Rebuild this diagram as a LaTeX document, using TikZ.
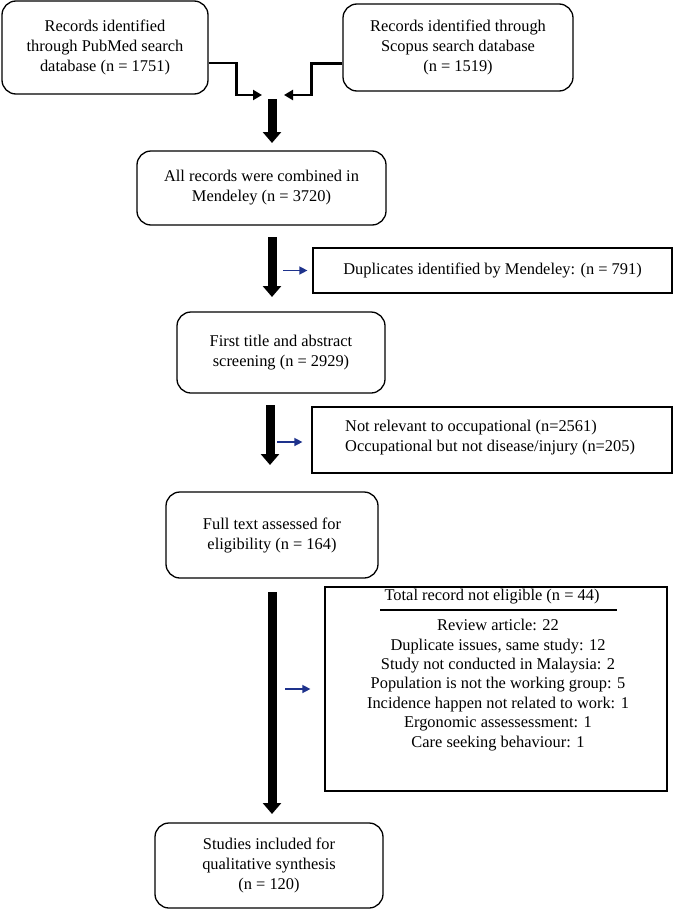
\documentclass[tikz,border=0pt]{standalone}
\usepackage{fontspec}
\setmainfont{Liberation Serif}
\usetikzlibrary{arrows.meta}
\definecolor{navy}{RGB}{30,50,140}
\begin{document}
\begin{tikzpicture}[x=1pt,y=-1pt,
  every node/.style={font=\fontsize{16.4}{20}\selectfont, inner sep=0pt},
  rbox/.style={draw, line width=1.3pt, rounded corners=14pt, align=center},
  sbox/.style={draw, line width=1.2pt},
  big/.style={line width=9pt, -{Triangle[width=18pt,length=11pt]}},
  elbow/.style={line width=2.8pt, -{Triangle[width=10pt,length=9pt]}},
  bluearr/.style={draw=navy, line width=1.4pt, -{Triangle[width=8pt,length=8pt]}, color=navy}]
\useasboundingbox (0,0) rectangle (674,910);
\fill[white] (0,0) rectangle (674,910);

\node[rbox, minimum width=206pt, minimum height=93pt] (pub) at (105,47.5)
  {Records identified\\through PubMed search\\database (n = 1751)};
\node[rbox, minimum width=230pt, minimum height=87pt] (sco) at (458,47.5)
  {Records identified through\\Scopus search database\\(n = 1519)};
\node[rbox, minimum width=249pt, minimum height=74pt] (men) at (261.5,188)
  {All records were combined in\\Mendeley (n = 3720)};
\node[rbox, minimum width=208pt, minimum height=81pt] (scr) at (281,352.5)
  {First title and abstract\\screening (n = 2929)};
\node[rbox, minimum width=212pt, minimum height=86pt] (full) at (272,535)
  {Full text assessed for\\eligibility (n = 164)};
\node[rbox, minimum width=228pt, minimum height=85pt] (inc) at (269,865.5)
  {Studies included for\\qualitative synthesis\\(n = 120)};

\node[sbox, minimum width=359pt, minimum height=45pt] (dup) at (492.5,270.5)
  {Duplicates identified by Mendeley: (n = 791)};
\node[sbox, minimum width=360pt, minimum height=66pt] (rel) at (492,440) {};
\node[align=left, anchor=west] (reltxt) at (345,438)
  {Not relevant to occupational (n=2561)\\Occupational but not disease/injury (n=205)};
\node[sbox, minimum width=342pt, minimum height=204pt] (elig) at (496,689) {};
\node (eligtitle) at (492,597) {Total record not eligible (n = 44)};
\draw[line width=1.2pt] (380,610) -- (617,610);
\node[align=center, font=\fontsize{16.4}{19.4}\selectfont] (eliglist) at (498,685)
  {Review article: 22\\Duplicate issues, same study: 12\\Study not conducted in Malaysia: 2\\Population is not the working group: 5\\Incidence happen not related to work: 1\\Ergonomic assessessment: 1\\Care seeking behaviour: 1};

% merge arrows
\coordinate (mergeL) at (262,95);
\coordinate (mergeR) at (284,95);
\draw[elbow] ([yshift=-15.5pt]pub.east) -- ++(28,0) |- (mergeL);
\draw[elbow] ([yshift=-16pt]sco.west) -- ++(-31,0) |- (mergeR);

% big arrows
\coordinate (b1s) at (272,99);  \coordinate (b1e) at (272,143);
\coordinate (b2s) at (272,237); \coordinate (b2e) at (272,297);
\coordinate (b3s) at (270,405); \coordinate (b3e) at (270,465);
\coordinate (b4s) at (272,592); \coordinate (b4e) at (272,814);
\draw[big] (b1s) -- (b1e);
\draw[big] (b2s) -- (b2e);
\draw[big] (b3s) -- (b3e);
\draw[big] (b4s) -- (b4e);

% blue arrows
\draw[bluearr] ([xshift=-29pt]dup.west) -- ([xshift=-5pt]dup.west);
\draw[bluearr] ([xshift=-34pt,yshift=-2pt]rel.west) -- ([xshift=-9pt,yshift=-2pt]rel.west);
\draw[bluearr] ([xshift=-39pt]elig.west) -- ([xshift=-14pt]elig.west);
\end{tikzpicture}
\end{document}
